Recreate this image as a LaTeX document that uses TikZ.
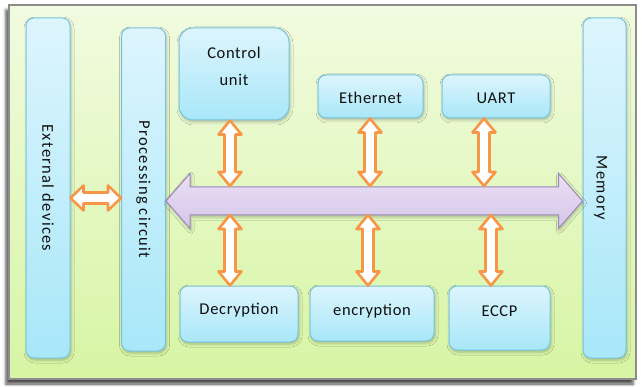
\documentclass[tikz,border=0pt]{standalone}
\usepackage{fontspec}
\newfontfamily\lblfont{Carlito}[LetterSpace=4]
\newfontfamily\lblvfont{Carlito}[LetterSpace=8]
\usetikzlibrary{calc,shadows.blur}

\definecolor{framegray}{HTML}{8C8C8C}
\definecolor{greentop}{HTML}{F1FBE0}
\definecolor{greenbot}{HTML}{D7F5A4}
\definecolor{boxline}{HTML}{78C3DA}
\definecolor{boxtop}{HTML}{DDF5FD}
\definecolor{boxbot}{HTML}{A8E7F9}
\definecolor{orng}{HTML}{F79646}
\definecolor{bustop}{HTML}{EAE0F5}
\definecolor{busbot}{HTML}{D6C5EA}
\definecolor{busline}{HTML}{9C88BC}
\definecolor{txtcol}{HTML}{101010}

% vertical double-headed arrow: style, top point, bottom point, head half-width, shaft half-width, head length
\newcommand\vbiarrow[6]{%
  \path[#1] let \p1=#2, \p2=#3 in
    (\x1,\y1) -- (\x1+#4,\y1-#6) -- (\x1+#5,\y1-#6) -- (\x1+#5,\y2+#6)
    -- (\x1+#4,\y2+#6) -- (\x1,\y2) -- (\x1-#4,\y2+#6) -- (\x1-#5,\y2+#6)
    -- (\x1-#5,\y1-#6) -- (\x1-#4,\y1-#6) -- cycle;}
% horizontal double-headed arrow: style, left point, right point, head half-width, shaft half-width, head length
\newcommand\hbiarrow[6]{%
  \path[#1] let \p1=#2, \p2=#3 in
    (\x1,\y1) -- (\x1+#6,\y1+#4) -- (\x1+#6,\y1+#5) -- (\x2-#6,\y1+#5)
    -- (\x2-#6,\y1+#4) -- (\x2,\y1) -- (\x2-#6,\y1-#4) -- (\x2-#6,\y1-#5)
    -- (\x1+#6,\y1-#5) -- (\x1+#6,\y1-#4) -- cycle;}

\begin{document}
\begin{tikzpicture}[x=1pt,y=-1pt,
  box/.style={draw=boxline, line width=1pt, rounded corners=8pt,
    top color=boxtop, bottom color=boxbot, inner sep=0pt,
    blur shadow={shadow xshift=1pt, shadow yshift=-2pt, shadow opacity=25, shadow blur radius=3pt}},
  vbox/.style={box, rotate=-90},
  txt/.style={font=\lblfont\fontsize{16.5}{27}\selectfont, text=txtcol, align=center, inner sep=0pt},
  vtxt/.style={font=\lblvfont\fontsize{16.5}{20}\selectfont, text=txtcol, inner sep=0pt},
  link/.style={draw=orng, line width=2.6pt, fill=white, line join=round},
  bus/.style={draw=busline, line width=1pt, top color=bustop, bottom color=busbot,
    blur shadow={shadow xshift=1pt, shadow yshift=-2pt, shadow opacity=25, shadow blur radius=3pt}}
]
\useasboundingbox (0,0) rectangle (642,387);

% background panel
\path[draw=framegray, line width=1.2pt, top color=greentop, bottom color=greenbot,
  blur shadow={shadow xshift=-3pt, shadow yshift=-5pt, shadow opacity=70, shadow blur radius=3pt}]
  (9,5) rectangle (636,379);

% side blocks (turned clockwise: their north side faces right)
\node[vbox, minimum width=340pt, minimum height=44pt, vtxt] (ext) at (48,188) {External devices};
\node[vbox, minimum width=323pt, minimum height=44pt, vtxt] (pc) at (143.5,189.5) {Processing circuit};
\node[vbox, minimum width=340pt, minimum height=43pt, vtxt,
  label={[vtxt,rotate=-90,yshift=-4pt]center:Memory}] (mem) at (604.5,188) {};

% peripheral blocks
\node[box, rounded corners=14pt, minimum width=110pt, minimum height=92pt,
  label={[txt,yshift=8pt]center:{Control\\unit}}] (cu) at (234,74) {};
\node[box, minimum width=105pt, minimum height=43pt,
  label={[txt,yshift=-1.5pt]center:Ethernet}] (eth) at (370.5,96.5) {};
\node[box, minimum width=108pt, minimum height=43pt,
  label={[txt,yshift=-1.5pt]center:UART}] (uart) at (496,96.5) {};
\node[box, minimum width=118pt, minimum height=56pt,
  label={[txt,yshift=4pt]center:Decryption}] (dec) at (239,314) {};
\node[box, minimum width=124pt, minimum height=55pt,
  label={[txt,yshift=2.5pt]center:encryption}] (enc) at (372,313.5) {};
\node[box, minimum width=101pt, minimum height=64pt,
  label={[txt,yshift=7pt]center:ECCP}] (eccp) at (499.5,318) {};

% reference lines for the bus and the link columns
\coordinate (busmid) at (0,201);
\coordinate (extlink) at (0,198);
\coordinate (bustopedge) at (0,186);
\coordinate (busbotedge) at (0,215);
\coordinate (colA) at (230,0);
\coordinate (colB) at (370,0);
\coordinate (colC) at (484,0);
\coordinate (colD) at (368,0);
\coordinate (colE) at (491,0);

% system bus
\hbiarrow{bus}{(pc.north |- busmid)}{(mem.south |- busmid)}{27.5pt}{14pt}{24pt}

% links to the bus
\hbiarrow{link}{(ext.north |- extlink)}{(pc.south |- extlink)}{12.5pt}{5.5pt}{13pt}
\vbiarrow{link}{(cu.south -| colA)}{(bustopedge -| colA)}{11.5pt}{5.5pt}{14pt}
\vbiarrow{link}{(eth.south -| colB)}{(bustopedge -| colB)}{11.5pt}{5.5pt}{14pt}
\vbiarrow{link}{(uart.south -| colC)}{(bustopedge -| colC)}{11.5pt}{5.5pt}{14pt}
\vbiarrow{link}{(busbotedge -| colA)}{(dec.north -| colA)}{11.5pt}{5.5pt}{14pt}
\vbiarrow{link}{(busbotedge -| colD)}{(enc.north -| colD)}{11.5pt}{5.5pt}{14pt}
\vbiarrow{link}{(busbotedge -| colE)}{(eccp.north -| colE)}{11.5pt}{5.5pt}{14pt}
\end{tikzpicture}
\end{document}
